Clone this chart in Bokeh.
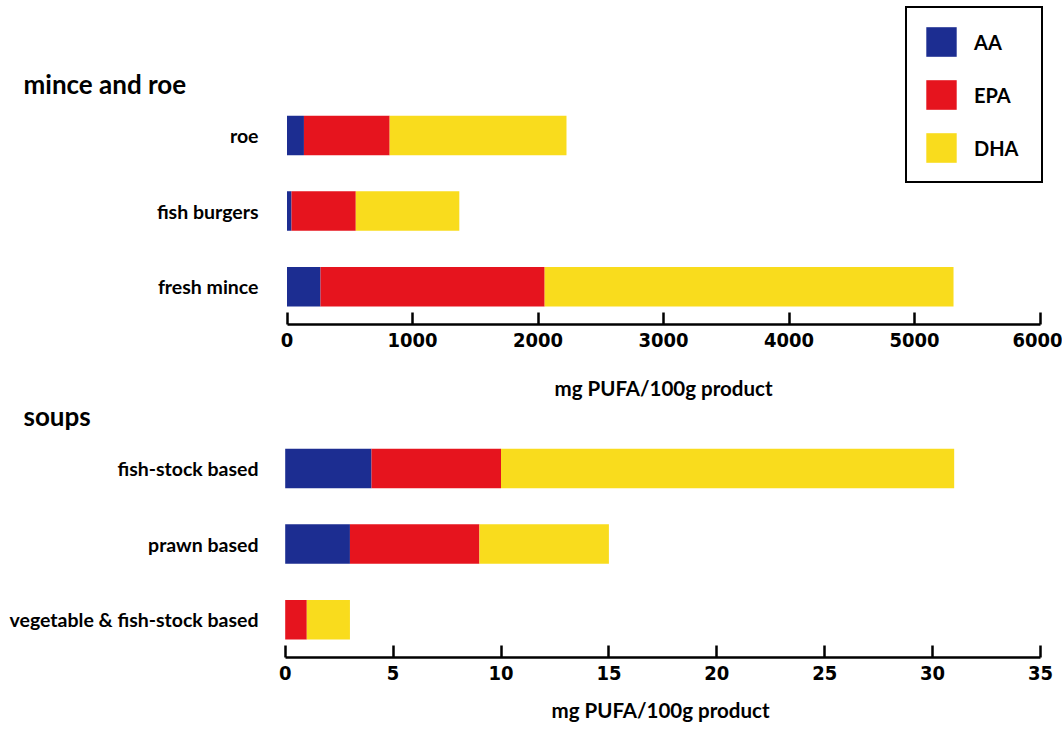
from bokeh.plotting import figure
from bokeh.layouts import column
from bokeh.models import Range1d, ColumnDataSource, FixedTicker, Title
from bokeh.core.properties import value
from bokeh.embed import file_html
from bokeh.resources import INLINE

# ---- data ----
series = ["AA", "EPA", "DHA"]
colors = ["#1c2d91", "#e6141e", "#f9dc1d"]

mince_cats = ["fresh mince", "fish burgers", "roe"]
mince_AA = [267, 36, 135]
mince_EPA = [1786, 512, 683]
mince_DHA = [3258, 825, 1409]
mince_ticks = [0, 1000, 2000, 3000, 4000, 5000, 6000]

soup_cats = ["vegetable & fish-stock based", "prawn based", "fish-stock based"]
soup_AA = [0, 3, 4]
soup_EPA = [1, 6, 6]
soup_DHA = [2, 6, 21]
soup_ticks = [0, 5, 10, 15, 20, 25, 30, 35]

xlabel = "mg PUFA/100g product"
titles = ["mince and roe", "soups"]

LABEL_FONT = "Lato"
TICK_FONT = "DejaVu Sans Condensed"
W = 1062
ROW = 75.6
BAR_H = 39.5


def base_figure(cats, aa, epa, dha, ticks, xmax, height, frame_h, x0_px, x1_px, legend):
    ypos = [i + 0.5 for i in range(len(cats))]
    src = ColumnDataSource(dict(cat=cats, y=ypos, AA=aa, EPA=epa, DHA=dha))
    ppu = (x1_px - x0_px) / xmax
    p = figure(width=W, height=height,
               x_range=Range1d(-x0_px / ppu, (W - x0_px) / ppu),
               y_range=Range1d(0, frame_h / ROW),
               output_backend="svg", toolbar_location=None,
               min_border_left=0, min_border_right=0, min_border_top=0,
               min_border_bottom=height - frame_h)
    kw = dict(legend_label=series) if legend else {}
    p.hbar_stack(series, y="y", height=BAR_H / ROW, source=src, color=colors,
                 line_width=0, **kw)
    p.outline_line_color = None
    p.grid.visible = False
    p.yaxis.visible = False
    p.background_fill_color = "white"
    p.border_fill_color = "white"

    xa = p.xaxis[0]
    xa.bounds = (0, xmax)
    xa.ticker = FixedTicker(ticks=ticks)
    xa.axis_line_width = 2.5
    xa.axis_line_color = "black"
    xa.major_tick_line_width = 2.5
    xa.major_tick_line_color = "black"
    xa.major_tick_in = 12
    xa.major_tick_out = 0
    xa.minor_tick_line_color = None
    xa.major_label_text_font = TICK_FONT
    xa.major_label_text_font_style = "bold"
    xa.major_label_text_font_size = "20px"
    xa.major_label_text_color = "black"
    xa.major_label_standoff = 8

    p.text(x=(258 - x0_px) / ppu, y="y", text="cat", source=src,
           text_font=value(LABEL_FONT), text_font_style="bold", text_font_size="19.5px",
           text_align="right", text_baseline="middle", text_color="black")
    # helpers: page pixel -> data coordinates (page_top = figure's top on the page)
    return p, ppu


def heading(p, x, y, text, size="26px", align="left"):
    p.text(x=[x], y=[y], text=[text], text_font=value(LABEL_FONT), text_font_style="bold",
           text_font_size=size, text_align=align, text_baseline="middle", text_color="black")


# ---------- top panel: page y 0 .. 370, frame 0 .. 324 ----------
T_X0, T_X1 = 286.5, 1039.5
top, tppu = base_figure(mince_cats, mince_AA, mince_EPA, mince_DHA, mince_ticks, 6000,
                        370, 324, T_X0, T_X1, True)
heading(top, (23 - T_X0) / tppu, (324 - 83) / ROW, titles[0])
lg = top.legend[0]
lg.location = (905, 324 - 183)
lg.border_line_color = "black"
lg.border_line_width = 2.5
lg.border_line_alpha = 1
lg.background_fill_color = "white"
lg.background_fill_alpha = 1
lg.glyph_width = 38
lg.glyph_height = 37
lg.spacing = 16
lg.padding = 15
lg.margin = 0
lg.label_standoff = 14
lg.label_text_font = LABEL_FONT
lg.label_text_font_style = "bold"
lg.label_text_font_size = "20px"
lg.label_text_color = "black"
lg.label_height = 37
lg.label_width = 52

# ---------- bottom panel: page y 370 .. 735, frame 370 .. 657 ----------
B_TOP = 370
B_FRAME = 657 - B_TOP
B_X0, B_X1 = 284.7, 1040.0
bottom, bppu = base_figure(soup_cats, soup_AA, soup_EPA, soup_DHA, soup_ticks, 35,
                           735 - B_TOP, B_FRAME, B_X0, B_X1, False)
# x-axis title of the upper panel (sits just under its axis)
heading(bottom, ((T_X0 + T_X1) / 2 - B_X0) / bppu, (B_FRAME - (387 - B_TOP)) / ROW,
        xlabel, size="20.5px", align="center")
heading(bottom, (23 - B_X0) / bppu, (B_FRAME - (415 - B_TOP)) / ROW, titles[1])
bottom.add_layout(Title(text=xlabel, align="left", offset=551,
                        text_font=LABEL_FONT, text_font_style="bold",
                        text_font_size="20.5px", text_color="black", standoff=27), "below")

layout = column(top, bottom, spacing=0)
open("out.html", "w").write(file_html(layout, INLINE))
